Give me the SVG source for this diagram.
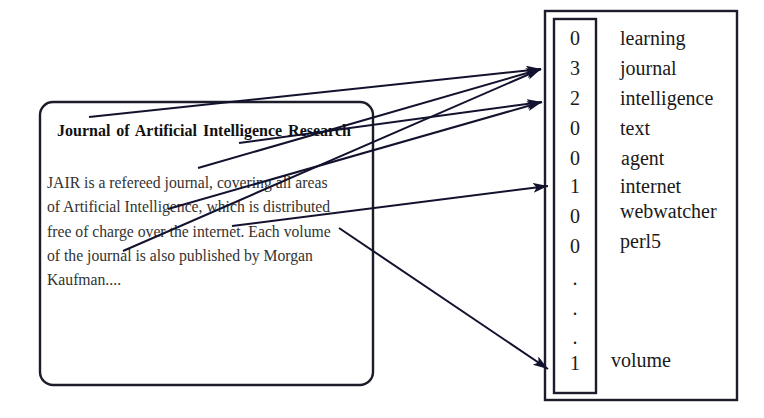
<svg xmlns="http://www.w3.org/2000/svg" width="764" height="418" viewBox="0 0 764 418">
<style>
.box{fill:none;stroke:#1c1c2a;stroke-width:2.4}
.title{font-family:"Liberation Serif",serif;font-weight:bold;font-size:16px;fill:#111;word-spacing:2px}
.body{font-family:"Liberation Serif",serif;font-size:15.7px;fill:#333}
.num{font-family:"Liberation Serif",serif;font-size:20px;fill:#1a1a1a;text-anchor:middle}
.word{font-family:"Liberation Serif",serif;font-size:20px;fill:#1a1a1a}
.conn{fill:none;stroke:#12122e;stroke-width:2}
</style>
<defs>
<marker id="ah" markerUnits="userSpaceOnUse" markerWidth="16" markerHeight="11" refX="15" refY="5" orient="auto">
<path d="M0,0 L15,5 L0,10 L3.5,5 z" fill="#12122e"/>
</marker>
</defs>
<rect width="764" height="418" fill="#fff"/>
<g id="document">
<rect class="box" x="40" y="102" width="333" height="283" rx="13" ry="13"/>
<text class="title" x="57" y="136">Journal of Artificial Intelligence Research</text>
<text class="body" x="47" y="188">JAIR is a refereed journal, covering all areas</text>
<text class="body" x="47" y="212">of Artificial Intelligence, which is distributed</text>
<text class="body" x="47" y="237">free of charge over the internet. Each volume</text>
<text class="body" x="47" y="261">of the journal is also published by Morgan</text>
<text class="body" x="47" y="285">Kaufman....</text>
</g>
<g id="vector">
<rect class="box" x="545" y="11" width="192" height="389"/>
<rect class="box" x="554" y="19" width="42" height="374"/>
<g id="counts">
<text class="num" x="575" y="45">0</text>
<text class="num" x="575" y="75">3</text>
<text class="num" x="575" y="105">2</text>
<text class="num" x="575" y="135">0</text>
<text class="num" x="575" y="165">0</text>
<text class="num" x="575" y="193">1</text>
<text class="num" x="575" y="223">0</text>
<text class="num" x="575" y="253">0</text>
<text class="num" x="575" y="285">.</text>
<text class="num" x="575" y="315">.</text>
<text class="num" x="575" y="344">.</text>
<text class="num" x="575" y="370">1</text>
</g>
<g id="terms">
<text class="word" x="620" y="45">learning</text>
<text class="word" x="620" y="75">journal</text>
<text class="word" x="620" y="105">intelligence</text>
<text class="word" x="620" y="135">text</text>
<text class="word" x="621" y="165">agent</text>
<text class="word" x="620" y="193">internet</text>
<text class="word" x="620" y="218">webwatcher</text>
<text class="word" x="620" y="248">perl5</text>
<text class="word" x="611" y="367">volume</text>
</g>
</g>
<g id="connectors">
<line class="conn" x1="89" y1="117" x2="541" y2="69" marker-end="url(#ah)"/>
<line class="conn" x1="198" y1="168" x2="541" y2="69" marker-end="url(#ah)"/>
<line class="conn" x1="123" y1="251" x2="541" y2="69" marker-end="url(#ah)"/>
<line class="conn" x1="239" y1="143" x2="542" y2="102" marker-end="url(#ah)"/>
<line class="conn" x1="168" y1="209" x2="542" y2="102" marker-end="url(#ah)"/>
<line class="conn" x1="232" y1="226" x2="548" y2="186" marker-end="url(#ah)"/>
<line class="conn" x1="339" y1="228" x2="548" y2="369" marker-end="url(#ah)"/>
</g>
</svg>
